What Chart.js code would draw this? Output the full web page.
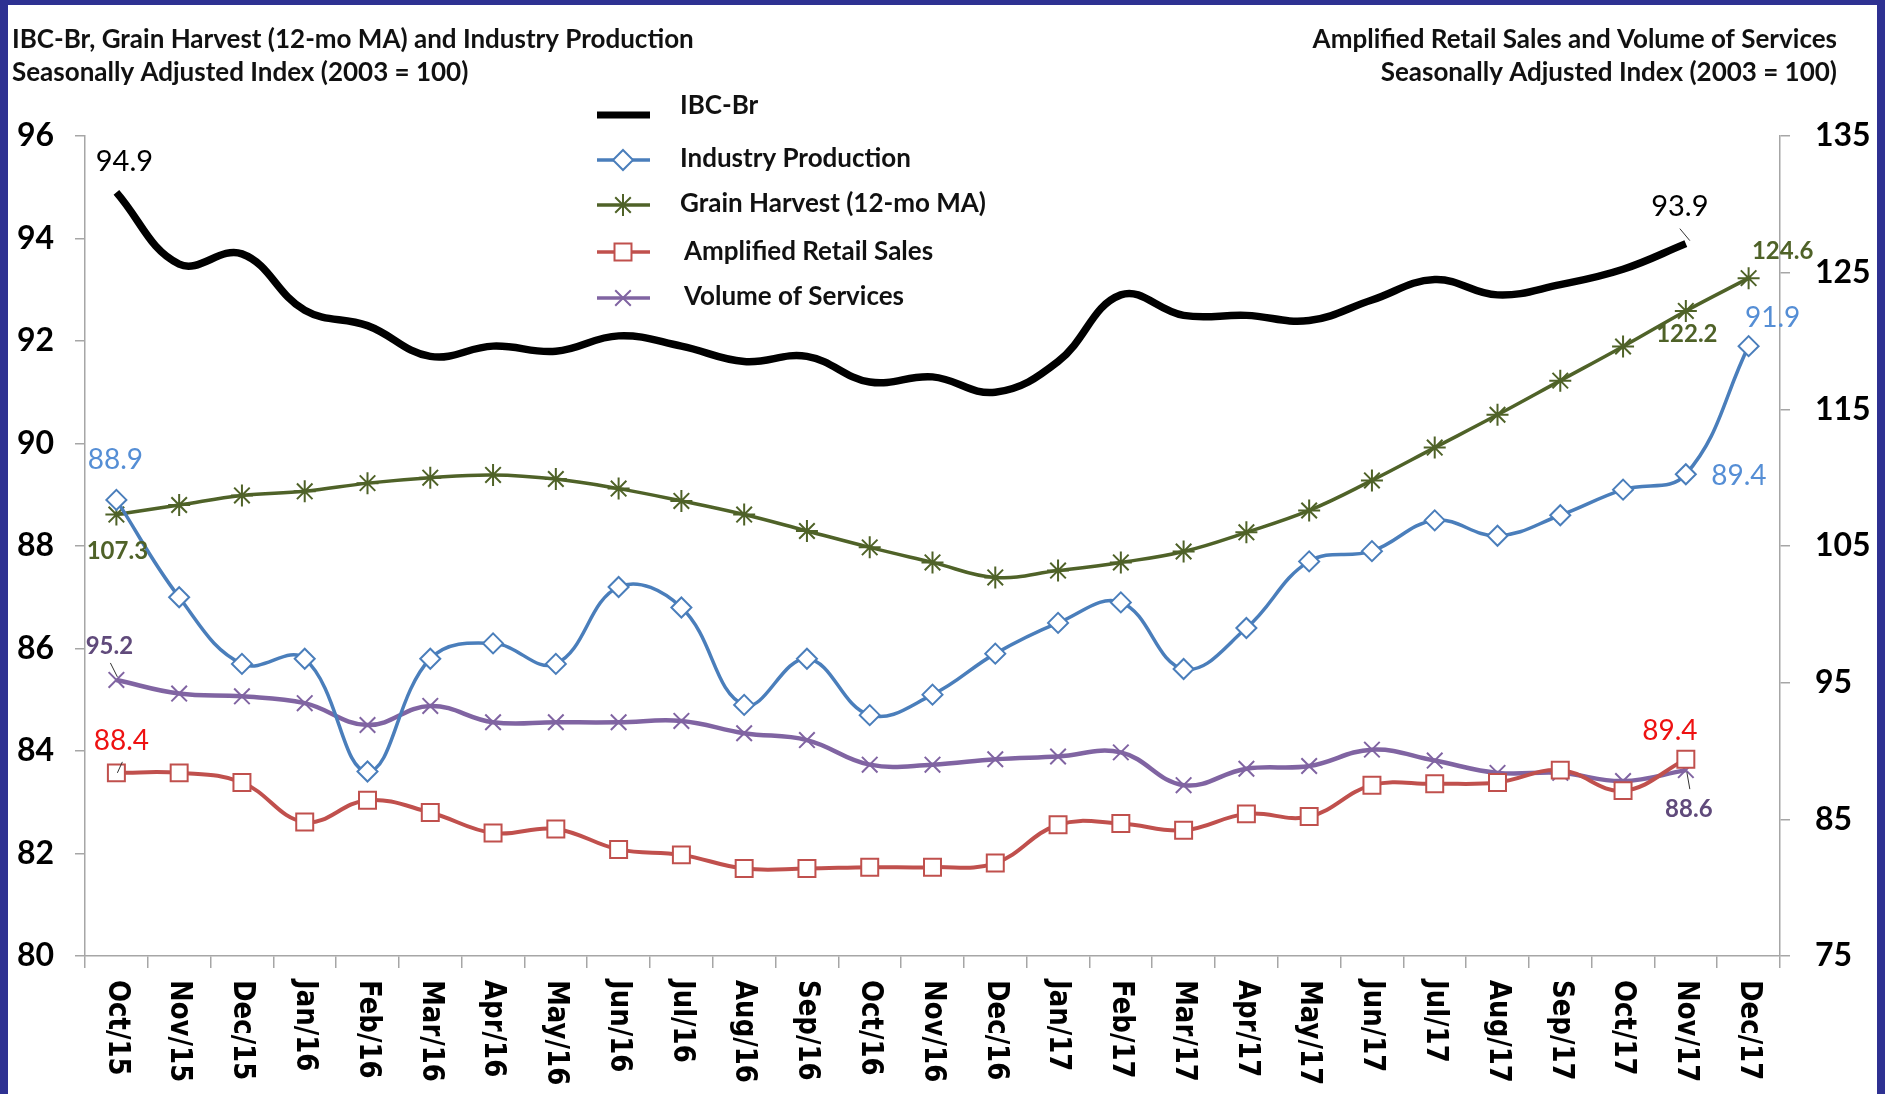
<!DOCTYPE html>
<html>
<head>
<meta charset="utf-8">
<title>IBC-Br and activity indicators</title>
<script src="https://cdn.jsdelivr.net/npm/chart.js@4"></script>
<style>
  html, body { margin: 0; padding: 0; background: #2e3192; }
  #frame { position: absolute; left: 8px; top: 5px; width: 1869px; height: 1089px; background: #fff; }
</style>
</head>
<body>
<div id="frame"><canvas id="activity-chart"></canvas></div>
<script>
// monthly series, Oct/15 .. Dec/17
const months = ["Oct/15", "Nov/15", "Dec/15", "Jan/16", "Feb/16", "Mar/16", "Apr/16", "May/16", "Jun/16",
  "Jul/16", "Aug/16", "Sep/16", "Oct/16", "Nov/16", "Dec/16", "Jan/17", "Feb/17", "Mar/17", "Apr/17",
  "May/17", "Jun/17", "Jul/17", "Aug/17", "Sep/17", "Oct/17", "Nov/17", "Dec/17"];

// left axis
const ibcBr = [94.9, 93.5, 93.7, 92.6, 92.3, 91.7, 91.9, 91.8, 92.1, 91.9, 91.6, 91.7, 91.2, 91.3, 91.0,
  91.6, 92.9, 92.5, 92.5, 92.4, 92.8, 93.2, 92.9, 93.1, 93.4, 93.9, null];
const industryProduction = [88.9, 87.0, 85.7, 85.8, 83.6, 85.8, 86.1, 85.7, 87.2, 86.8, 84.9, 85.8, 84.7,
  85.1, 85.9, 86.5, 86.9, 85.6, 86.4, 87.7, 87.9, 88.5, 88.2, 88.6, 89.1, 89.4, 91.9];

// right axis
const grainHarvest = [107.3, 108.0, 108.7, 109.0, 109.6, 110.0, 110.2, 109.9, 109.2, 108.3, 107.3, 106.1,
  104.9, 103.8, 102.7, 103.2, 103.8, 104.6, 106.0, 107.6, 109.8, 112.2, 114.6, 117.1, 119.6, 122.2, 124.6];
const retailSales = [88.4, 88.4, 87.7, 84.8, 86.4, 85.5, 84.0, 84.3, 82.8, 82.4, 81.4, 81.4, 81.5, 81.5,
  81.8, 84.6, 84.7, 84.2, 85.4, 85.2, 87.5, 87.6, 87.7, 88.6, 87.1, 89.4, null];
const servicesVolume = [95.2, 94.2, 94.0, 93.5, 91.9, 93.3, 92.1, 92.1, 92.1, 92.2, 91.3, 90.8, 89.0, 89.0,
  89.4, 89.6, 89.9, 87.5, 88.7, 88.9, 90.1, 89.3, 88.4, 88.4, 87.8, 88.6, null];

const leftTicks = [80, 82, 84, 86, 88, 90, 92, 94, 96];
const rightTicks = [75, 85, 95, 105, 115, 125, 135];

const AXIS_GREY = "#a6a6a6";

// value labels: dataset, point index, offset from the point, style, optional leader line
const valueLabels = [
  { ds: 0, i: 0, dx: 8, dy: -31, color: "#000", font: "29px Lato" },
  { ds: 0, i: 25, dx: -6, dy: -37, color: "#000", font: "29px Lato", leader: [-6, -15, 4, -3] },
  { ds: 1, i: 0, dx: -1, dy: -40, color: "#558ed5", font: "28px Lato" },
  { ds: 1, i: 25, dx: 53, dy: 2, color: "#558ed5", font: "28px Lato" },
  { ds: 1, i: 26, dx: 24, dy: -28, color: "#558ed5", font: "28px Lato" },
  { ds: 2, i: 0, dx: 1, dy: 37, color: "#4f6228", font: "bold 24px Lato" },
  { ds: 2, i: 25, dx: 1, dy: 23, color: "#4f6228", font: "bold 24px Lato" },
  { ds: 2, i: 26, dx: 34, dy: -27, color: "#4f6228", font: "bold 24px Lato" },
  { ds: 3, i: 0, dx: 5, dy: -32, color: "#ee1111", font: "28px Lato", leader: [6, -11, 1, 0] },
  { ds: 3, i: 25, dx: -16, dy: -28, color: "#ee1111", font: "28px Lato" },
  { ds: 4, i: 0, dx: -7, dy: -34, color: "#604a7b", font: "bold 24px Lato", leader: [-6, -17, 1, -3] },
  { ds: 4, i: 25, dx: 3, dy: 39, color: "#604a7b", font: "bold 24px Lato", leader: [4, 19, 1, 2] },
];

// legend rows: y of text, y of sample line, x of text
const legendRows = [
  { text: 101, line: 110, x: 672 },
  { text: 154, line: 155, x: 672 },
  { text: 199, line: 200, x: 672 },
  { text: 247, line: 247, x: 676 },
  { text: 292, line: 293, x: 676 },
];

function drawMarker(ctx, style, x, y, r, stroke, fill, width) {
  ctx.save();
  ctx.strokeStyle = stroke;
  ctx.fillStyle = fill;
  ctx.lineWidth = width;
  ctx.beginPath();
  if (style === "rectRot") {
    ctx.moveTo(x, y - r); ctx.lineTo(x + r, y); ctx.lineTo(x, y + r); ctx.lineTo(x - r, y); ctx.closePath();
    ctx.fill(); ctx.stroke();
  } else if (style === "rect") {
    const s = r * Math.SQRT1_2;
    ctx.rect(x - s, y - s, 2 * s, 2 * s);
    ctx.fill(); ctx.stroke();
  } else if (style === "star" || style === "crossRot") {
    const d = r * Math.SQRT1_2;
    ctx.moveTo(x - d, y - d); ctx.lineTo(x + d, y + d);
    ctx.moveTo(x - d, y + d); ctx.lineTo(x + d, y - d);
    if (style === "star") {
      ctx.moveTo(x, y - r); ctx.lineTo(x, y + r);
      ctx.moveTo(x - r, y); ctx.lineTo(x + r, y);
    }
    ctx.stroke();
  }
  ctx.restore();
}

const decorations = {
  id: "decorations",
  afterDraw(chart) {
    const ctx = chart.ctx;
    const x = chart.scales.x;

    // titles
    ctx.save();
    ctx.fillStyle = "#111";
    ctx.font = "bold 26px Lato";
    ctx.textBaseline = "middle";
    ctx.textAlign = "left";
    ctx.fillText("IBC-Br, Grain Harvest (12-mo MA) and Industry Production", 4, 35);
    ctx.fillText("Seasonally Adjusted Index (2003 = 100)", 4, 68);
    ctx.textAlign = "right";
    ctx.fillText("Amplified Retail Sales and Volume of Services", 1829, 35);
    ctx.fillText("Seasonally Adjusted Index (2003 = 100)", 1829, 68);
    ctx.restore();

    // month labels, rotated to read top-down
    ctx.save();
    ctx.fillStyle = "#000";
    ctx.font = "bold 26px 'DejaVu Sans'";
    ctx.textAlign = "left";
    ctx.textBaseline = "middle";
    months.forEach((m, i) => {
      ctx.save();
      ctx.translate(x.getPixelForValue(i), x.top + 24);
      ctx.rotate(Math.PI / 2);
      ctx.scale(1, 1.15);
      ctx.fillText(m, 0, 0);
      ctx.restore();
    });
    ctx.restore();

    // legend
    ctx.save();
    chart.data.datasets.forEach((ds, k) => {
      const row = legendRows[k];
      ctx.strokeStyle = ds.borderColor;
      ctx.lineWidth = k === 0 ? 7 : 3.5;
      ctx.beginPath();
      ctx.moveTo(589, row.line);
      ctx.lineTo(642, row.line);
      ctx.stroke();
      if (ds.pointStyle && ds.pointRadius > 0) {
        drawMarker(ctx, ds.pointStyle, 615, row.line, ds.pointRadius, ds.pointBorderColor,
          ds.pointBackgroundColor, ds.pointBorderWidth);
      }
      ctx.fillStyle = "#111";
      ctx.font = "bold 26px Lato";
      ctx.textAlign = "left";
      ctx.textBaseline = "middle";
      ctx.fillText(ds.label, row.x, row.text);
    });
    ctx.restore();
  },
  afterDatasetsDraw(chart) {
    const ctx = chart.ctx;
    ctx.save();
    ctx.textAlign = "center";
    ctx.textBaseline = "middle";
    valueLabels.forEach((lb) => {
      const pt = chart.getDatasetMeta(lb.ds).data[lb.i];
      const v = chart.data.datasets[lb.ds].data[lb.i];
      if (lb.leader) {
        ctx.strokeStyle = "#333";
        ctx.lineWidth = 1;
        ctx.beginPath();
        ctx.moveTo(pt.x + lb.leader[0], pt.y + lb.leader[1]);
        ctx.lineTo(pt.x + lb.leader[2], pt.y + lb.leader[3]);
        ctx.stroke();
      }
      ctx.fillStyle = lb.color;
      ctx.font = lb.font;
      ctx.fillText(v.toFixed(1), pt.x + lb.dx, pt.y + lb.dy);
    });
    ctx.restore();
  },
};

const tickFont = { family: "Lato", size: 32, weight: "bold" };

new Chart(document.getElementById("activity-chart"), {
  type: "line",
  data: {
    labels: months,
    datasets: [
      {
        label: "IBC-Br",
        data: ibcBr,
        yAxisID: "y",
        borderColor: "#000",
        borderWidth: 7.5,
        pointRadius: 0,
        tension: 0.4,
      },
      {
        label: "Industry Production",
        data: industryProduction,
        yAxisID: "y",
        borderColor: "#4a7ebb",
        borderWidth: 3.5,
        pointStyle: "rectRot",
        pointRadius: 10,
        pointBorderWidth: 2,
        pointBorderColor: "#4a7ebb",
        pointBackgroundColor: "#fff",
        tension: 0.4,
      },
      {
        label: "Grain Harvest (12-mo MA)",
        data: grainHarvest,
        yAxisID: "y1",
        borderColor: "#4f6228",
        borderWidth: 3.5,
        pointStyle: "star",
        pointRadius: 11,
        pointBorderWidth: 2,
        pointBorderColor: "#4f6228",
        pointBackgroundColor: "#4f6228",
        tension: 0.4,
      },
      {
        label: "Amplified Retail Sales",
        data: retailSales,
        yAxisID: "y1",
        borderColor: "#c0504d",
        borderWidth: 4,
        pointStyle: "rect",
        pointRadius: 12,
        pointBorderWidth: 2,
        pointBorderColor: "#c0504d",
        pointBackgroundColor: "#fff",
        tension: 0.4,
      },
      {
        label: "Volume of Services",
        data: servicesVolume,
        yAxisID: "y1",
        borderColor: "#8064a2",
        borderWidth: 4.5,
        pointStyle: "crossRot",
        pointRadius: 11,
        pointBorderWidth: 2,
        pointBorderColor: "#8064a2",
        pointBackgroundColor: "#8064a2",
        tension: 0.4,
      },
    ],
  },
  options: {
    responsive: true,
    maintainAspectRatio: false,
    animation: false,
    layout: { padding: { top: 131, left: 0, right: 0, bottom: 0 } },
    plugins: {
      legend: { display: false },
      tooltip: { enabled: false },
    },
    scales: {
      x: {
        offset: true,
        grid: { offset: true, drawOnChartArea: false, tickLength: 12, color: AXIS_GREY, lineWidth: 1.5 },
        border: { color: AXIS_GREY, width: 1.5 },
        ticks: { display: false },
        afterFit: (s) => { s.height = 138; },
      },
      y: {
        position: "left",
        min: 80,
        max: 96,
        afterBuildTicks: (s) => { s.ticks = leftTicks.map((v) => ({ value: v })); },
        ticks: { font: tickFont, color: "#000", padding: 21 },
        grid: { drawOnChartArea: false, tickLength: 10, color: AXIS_GREY, lineWidth: 1.5 },
        border: { color: AXIS_GREY, width: 1.5 },
        afterFit: (s) => { s.width = 77; },
      },
      y1: {
        position: "right",
        min: 75,
        max: 135,
        afterBuildTicks: (s) => { s.ticks = rightTicks.map((v) => ({ value: v })); },
        ticks: { font: tickFont, color: "#000", padding: 25 },
        grid: { drawOnChartArea: false, tickLength: 10, color: AXIS_GREY, lineWidth: 1.5 },
        border: { color: AXIS_GREY, width: 1.5 },
        afterFit: (s) => { s.width = 97; },
      },
    },
  },
  plugins: [decorations],
});
</script>
</body>
</html>
